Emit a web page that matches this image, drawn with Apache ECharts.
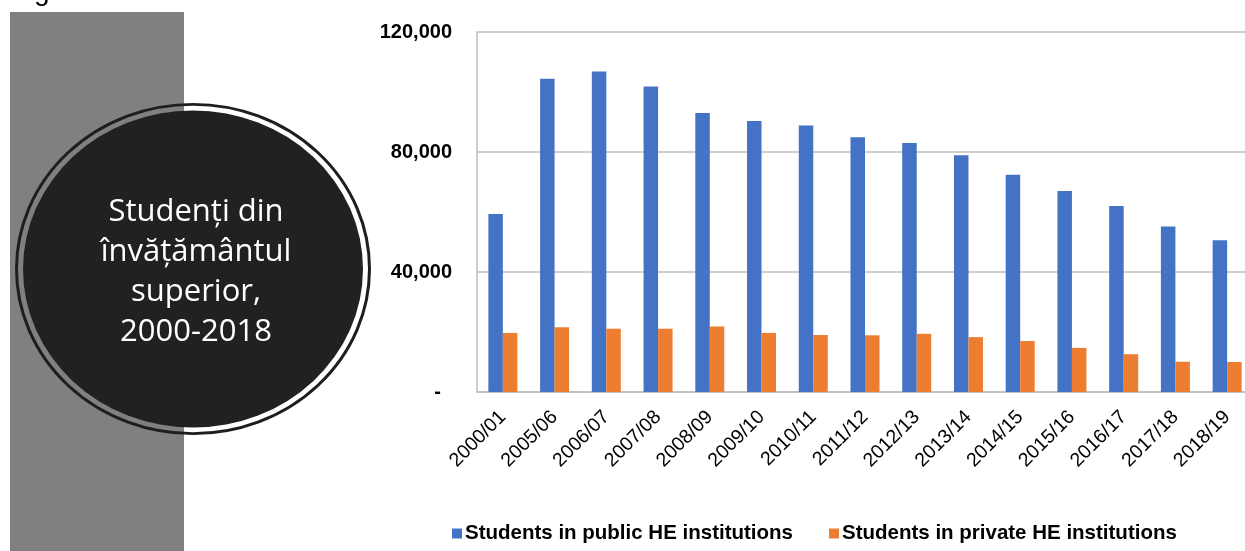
<!DOCTYPE html>
<html>
<head>
<meta charset="utf-8">
<script src="https://cdn.jsdelivr.net/npm/echarts@6/dist/echarts.min.js"></script>
<style>
html,body{margin:0;padding:0;background:#fff;overflow:hidden;}
#c{width:1256px;height:551px;}
</style>
</head>
<body>
<div id="c"></div>
<script>
const categories = ['2000/01','2005/06','2006/07','2007/08','2008/09','2009/10','2010/11','2011/12','2012/13','2013/14','2014/15','2015/16','2016/17','2017/18','2018/19'];
const publicStudents = [59300,104400,106800,101800,93000,90300,88800,84900,83000,78900,72400,67000,62000,55200,50600];
const privateStudents = [19700,21600,21100,21100,21800,19700,19000,18900,19400,18300,17000,14700,12600,10100,10000];
const seriesNames = ['Students in public HE institutions','Students in private HE institutions'];
const titleLines = ['Studenți din','învățământul','superior,','2000-2018'];
const yTicks = {min:0, max:120000, interval:40000};

const chart = echarts.init(document.getElementById('c'), null, {renderer:'canvas'});
const font = '"Liberation Sans", Arial, sans-serif';

chart.setOption({
  backgroundColor:'#ffffff',
  animation:false,
  grid:{left:477, top:32, width:776, height:360, containLabel:false},
  legend:{
    left:447, top:518,
    itemWidth:10, itemHeight:10, itemGap:36,
    icon:'rect',
    textStyle:{fontFamily:font, fontWeight:'bold', fontSize:20.5, color:'#000', padding:[0,0,0,-2]},
    data:seriesNames
  },
  xAxis:{
    type:'category',
    data:categories,
    axisLine:{lineStyle:{color:'#bfbfbf', width:1.5}},
    axisTick:{show:false},
    axisLabel:{rotate:45, margin:22, fontFamily:font, fontSize:19.5, color:'#000', interval:0}
  },
  yAxis:{
    type:'value',
    min:yTicks.min, max:yTicks.max, interval:yTicks.interval,
    axisLine:{show:true, lineStyle:{color:'#bfbfbf', width:1.5}},
    axisTick:{show:false},
    splitLine:{lineStyle:{color:'#bfbfbf', width:1.5}},
    axisLabel:{
      margin:25, fontFamily:font, fontWeight:'bold', fontSize:20, color:'#000',
      formatter:function(v){ return v===0 ? '-  ' : v.toLocaleString('en-US'); }
    }
  },
  series:[
    {name:seriesNames[0], type:'bar', data:publicStudents, barWidth:14.5, barGap:'0%',
     itemStyle:{color:'#4472C4'}},
    {name:seriesNames[1], type:'bar', data:privateStudents, barWidth:14.5, barGap:'0%',
     itemStyle:{color:'#ED7D31'}}
  ],
  graphic:[
    {type:'text', left:34, top:-22, silent:true,
     style:{text:'g', font:'28px "Liberation Sans", Arial', fill:'#000'}},
    {type:'rect', shape:{x:10, y:12, width:174, height:545}, style:{fill:'#808080'}, silent:true, z:-1},
    {type:'group', x:193, y:269, scaleY:0.933, silent:true, children:[
      {type:'circle', shape:{cx:0, cy:0, r:176.5}, style:{fill:null, stroke:'#1e1e1e', lineWidth:3}},
      {type:'circle', shape:{cx:0, cy:0, r:170}, style:{fill:'#212121'}}
    ]},
    {type:'text', x:196, y:272, silent:true, z:10,
     style:{text:titleLines.join('\n'), fill:'#ffffff', font:'31px "Open Sans", "Noto Sans", sans-serif',
            lineHeight:40, align:'center', verticalAlign:'middle'}}
  ]
});
</script>
</body>
</html>
